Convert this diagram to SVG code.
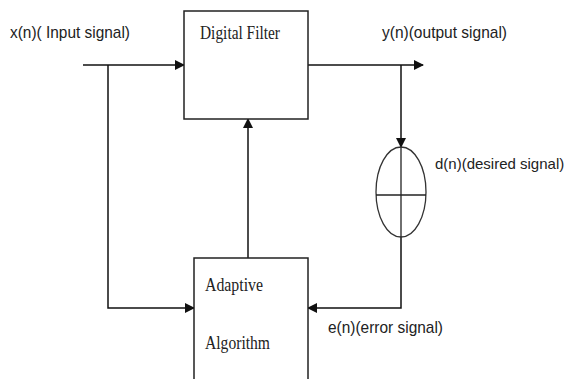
<svg xmlns="http://www.w3.org/2000/svg" width="569" height="379" viewBox="0 0 569 379">
<style>
.box{fill:#fff;stroke:#222;stroke-width:1.5}
.ln{fill:none;stroke:#111;stroke-width:1.5}
.lb{font-family:"Liberation Sans","Open Sans",sans-serif;font-size:17px;fill:#222}
.sf{font-family:"Liberation Serif","DejaVu Serif",serif;font-size:18px;fill:#222}
</style>
<defs>
<marker id="ah" markerWidth="10" markerHeight="10" refX="9" refY="5" orient="auto" markerUnits="userSpaceOnUse">
<path d="M0,0 L10,5 L0,10 Z" fill="#111"/>
</marker>
</defs>
<rect width="569" height="379" fill="#fff"/>
<g id="connectors">
<line class="ln" x1="83" y1="65" x2="184" y2="65" stroke-width="2" marker-end="url(#ah)"/>
<polyline class="ln" points="108,65 108,308 194,308" marker-end="url(#ah)"/>
<line class="ln" x1="248" y1="258" x2="248" y2="119" marker-end="url(#ah)"/>
<line class="ln" x1="308" y1="65" x2="423" y2="65" stroke-width="2" marker-end="url(#ah)"/>
<line class="ln" x1="401" y1="65" x2="401" y2="147" marker-end="url(#ah)"/>
<polyline class="ln" points="401,237 401,308 308,308" marker-end="url(#ah)"/>
</g>
<g id="filter">
<rect class="box" x="184" y="11" width="124" height="108"/>
<text class="sf" x="200" y="39" textLength="80" lengthAdjust="spacingAndGlyphs">Digital Filter</text>
</g>
<g id="adaptive">
<rect class="box" x="194" y="258" width="114" height="130"/>
<text class="sf" x="205" y="291" textLength="58" lengthAdjust="spacingAndGlyphs">Adaptive</text>
<text class="sf" x="205" y="349" textLength="65" lengthAdjust="spacingAndGlyphs">Algorithm</text>
</g>
<g id="summer">
<ellipse cx="401" cy="192" rx="25" ry="45" fill="#fff" stroke="#333" stroke-width="1.3"/>
<line x1="376" y1="195" x2="426" y2="195" stroke="#222" stroke-width="1.3"/>
<line x1="401" y1="147" x2="401" y2="237" stroke="#222" stroke-width="1.3"/>
</g>
<g id="labels">
<text class="lb" x="10" y="38" textLength="120" lengthAdjust="spacingAndGlyphs">x(n)( Input signal)</text>
<text class="lb" x="382" y="38" textLength="125" lengthAdjust="spacingAndGlyphs">y(n)(output signal)</text>
<text class="lb" x="435" y="169" style="font-size:15px">d(n)(desired signal)</text>
<text class="lb" x="328" y="333" textLength="115" lengthAdjust="spacingAndGlyphs">e(n)(error signal)</text>
</g>
</svg>
